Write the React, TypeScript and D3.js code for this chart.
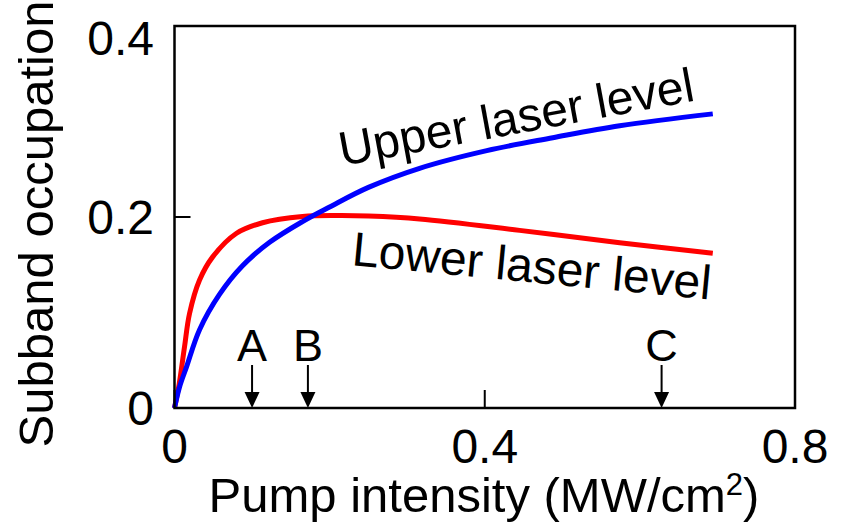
import React from "react";
import * as d3 from "d3";

const upperX = [0, 0.0065, 0.0155, 0.0323, 0.058, 0.0877, 0.1226, 0.1656, 0.2, 0.25, 0.316, 0.4026, 0.4877, 0.574, 0.694];
const upperY = [0, 0.022, 0.043, 0.082, 0.119, 0.149, 0.1735, 0.1955, 0.2105, 0.231, 0.251, 0.2695, 0.283, 0.2956, 0.308];

const lowerX = [0, 0.006, 0.0129, 0.0194, 0.0323, 0.049, 0.08, 0.1135, 0.165, 0.21, 0.25, 0.316, 0.445, 0.574, 0.694];
const lowerY = [0, 0.025, 0.064, 0.099, 0.134, 0.158, 0.183, 0.194, 0.2005, 0.2015, 0.201, 0.198, 0.186, 0.173, 0.162];

const xTicks = [0, 0.4, 0.8];
const yTicks = [0, 0.2, 0.4];
const markerX = [0.1, 0.172, 0.628];
const markerLabels = ["A", "B", "C"];

const FONT = "'Liberation Sans', Arial, sans-serif";

export default function App() {
  const W = 843, H = 530;
  const x = d3.scaleLinear().domain([0, 0.8]).range([174.5, 795]);
  const y = d3.scaleLinear().domain([0, 0.4]).range([408, 26]);
  const line = d3
    .line<[number, number]>()
    .x((d) => x(d[0]))
    .y((d) => y(d[1]))
    .curve(d3.curveCatmullRom.alpha(0.5));
  const upper = upperX.map((v, i) => [v, upperY[i]] as [number, number]);
  const lower = lowerX.map((v, i) => [v, lowerY[i]] as [number, number]);

  return (
    <svg
      width={W}
      height={H}
      style={{ position: "absolute", left: 0, top: 0, background: "#fff" }}
      fontFamily={FONT}
    >
      <rect x={0} y={0} width={W} height={H} fill="#fff" />
      {/* ticks */}
      {yTicks.map((t) => (
        <line key={"yt" + t} x1={x(0)} x2={x(0) + 16} y1={y(t)} y2={y(t)} stroke="#000" strokeWidth={2} />
      ))}
      {xTicks.map((t) => (
        <line key={"xt" + t} x1={x(t)} x2={x(t)} y1={y(0)} y2={y(0) - 18} stroke="#000" strokeWidth={2} />
      ))}
      {/* curves */}
      <path d={line(lower) || ""} fill="none" stroke="#ff0000" strokeWidth={5} />
      <path d={line(upper) || ""} fill="none" stroke="#0000ff" strokeWidth={5} />
      {/* frame */}
      <rect
        x={x(0)}
        y={y(0.4)}
        width={x(0.8) - x(0)}
        height={y(0) - y(0.4)}
        fill="none"
        stroke="#000"
        strokeWidth={2.5}
      />
      {/* y tick labels */}
      {yTicks.map((t) => (
        <text
          key={"yl" + t}
          x={154}
          y={t === 0.4 ? y(t) + 29 : y(t) + 17}
          textAnchor="end"
          fontSize={48}
          fill="#000"
        >
          {t === 0 ? "0" : t.toFixed(1)}
        </text>
      ))}
      {/* x tick labels */}
      {xTicks.map((t) => (
        <text key={"xl" + t} x={x(t)} y={463} textAnchor="middle" fontSize={48} fill="#000">
          {t === 0 ? "0" : t.toFixed(1)}
        </text>
      ))}
      {/* axis titles */}
      <text x={484} y={512} textAnchor="middle" fontSize={49} fill="#000">
        Pump intensity (MW/cm<tspan dy={-17} fontSize={31}>2</tspan>
        <tspan dy={17}>)</tspan>
      </text>
      <text
        transform={`translate(53, ${224}) rotate(-90)`}
        textAnchor="middle"
        fontSize={49}
        fill="#000"
      >
        Subband occupation
      </text>
      {/* curve labels */}
      <text transform="translate(342,166) rotate(-10.5)" fontSize={48} fill="#000">
        Upper laser level
      </text>
      <text transform="translate(351,265) rotate(5.5)" fontSize={48} fill="#000">
        Lower laser level
      </text>
      {/* markers */}
      {markerX.map((m, i) => (
        <g key={"m" + i}>
          <line x1={x(m)} x2={x(m)} y1={365} y2={395} stroke="#000" strokeWidth={2} />
          <polygon
            points={`${x(m) - 7.5},${392} ${x(m) + 7.5},${392} ${x(m)},${408}`}
            fill="#000"
          />
          <text x={x(m)} y={361} textAnchor="middle" fontSize={45} fill="#000">
            {markerLabels[i]}
          </text>
        </g>
      ))}
    </svg>
  );
}
